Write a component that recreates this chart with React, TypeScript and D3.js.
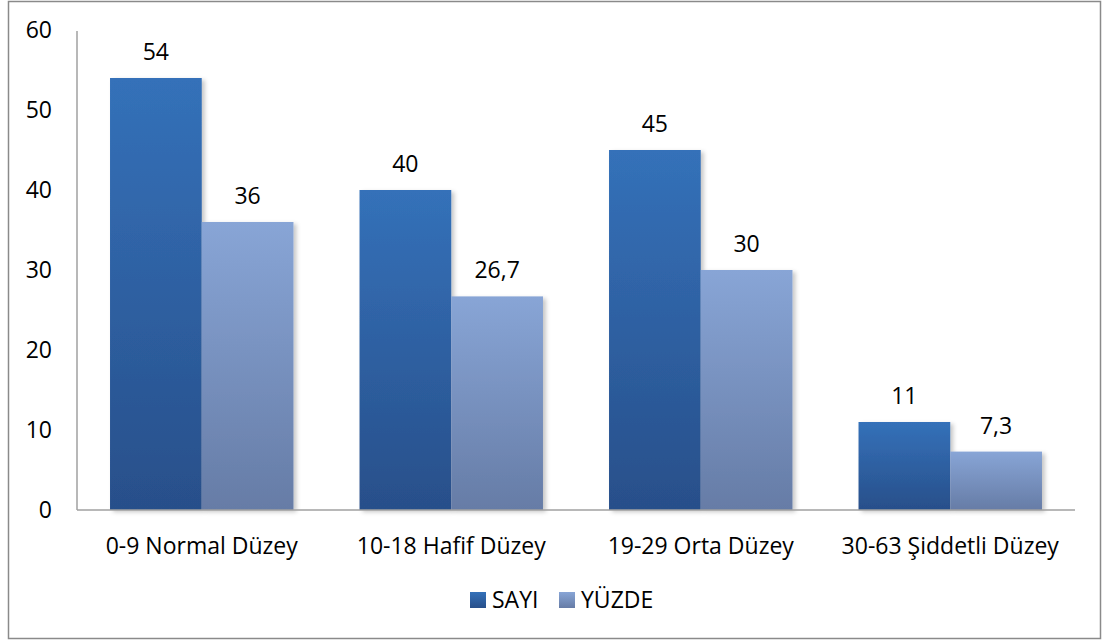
import React from 'react';
import * as d3 from 'd3';

const categories = ['0-9 Normal Düzey', '10-18 Hafif Düzey', '19-29 Orta Düzey', '30-63 Şiddetli Düzey'];
const seriesNames = ['SAYI', 'YÜZDE'];
const sayiValues = [54, 40, 45, 11];
const yuzdeValues = [36, 26.7, 30, 7.3];
const yTicks = [0, 10, 20, 30, 40, 50, 60];

const W = 1105;
const H = 641;
const plot = { left: 77, right: 1075, top: 30, bottom: 510 };
const font = "'Open Sans', 'Noto Sans', sans-serif";
const fs = 23;

const gradients: Record<string, [string, string]> = {
  SAYI: ['#3471b9', '#284f8a'],
  YÜZDE: ['#88a5d6', '#667ca6'],
};

const fmt = (v: number) => String(v).replace('.', ',');

export default function App() {
  const x0 = d3.scaleBand<string>().domain(categories).range([plot.left, plot.right]).padding(0);
  const x1 = d3
    .scaleBand<string>()
    .domain(seriesNames)
    .range([0, x0.bandwidth()])
    .paddingInner(0)
    .paddingOuter(0.36);
  const y = d3.scaleLinear().domain([0, 60]).range([plot.bottom, plot.top]);

  const rows = categories.map((c, i) => ({ cat: c, values: [sayiValues[i], yuzdeValues[i]] }));

  return (
    <div style={{ position: 'absolute', left: 0, top: 0 }}>
      <svg width={W} height={H} style={{ display: 'block', fontFamily: font }}>
        <defs>
          {seriesNames.map((s, i) => (
            <linearGradient key={s} id={`grad${i}`} x1="0" y1="0" x2="0" y2="1">
              <stop offset="0%" stopColor={gradients[s][0]} />
              <stop offset="100%" stopColor={gradients[s][1]} />
            </linearGradient>
          ))}
          <filter id="shadow" x="-10%" y="-10%" width="130%" height="120%">
            <feDropShadow dx="3" dy="2" stdDeviation="2" floodColor="#000" floodOpacity="0.22" />
          </filter>
        </defs>
        <rect x={0} y={0} width={W} height={H} fill="#fff" />
        <rect x={8.5} y={1.5} width={1092} height={637} fill="none" stroke="#8a8a8a" strokeWidth={1.5} />

        {/* y axis */}
        <line x1={plot.left} x2={plot.left} y1={plot.top + 1} y2={plot.bottom} stroke="#a0a0a0" strokeWidth={1.5} />
        {yTicks.map((t) => (
          <text key={t} x={52} y={y(t)} dy="0.36em" textAnchor="end" fontSize={fs} fill="#000">
            {t}
          </text>
        ))}

        {/* bars */}
        {rows.map((r) => (
          <g key={r.cat} transform={`translate(${x0(r.cat)},0)`}>
            {r.values.map((v, i) => (
              <rect
                key={i}
                x={x1(seriesNames[i])}
                y={y(v)}
                width={x1.bandwidth()}
                height={y(0) - y(v)}
                fill={`url(#grad${i})`}
                filter="url(#shadow)"
              />
            ))}
            {r.values.map((v, i) => (
              <text
                key={'l' + i}
                x={(x1(seriesNames[i]) ?? 0) + x1.bandwidth() / 2}
                y={y(v) - 18}
                textAnchor="middle"
                fontSize={fs}
                fill="#000"
              >
                {fmt(v)}
              </text>
            ))}
            <text x={x0.bandwidth() / 2} y={554} textAnchor="middle" fontSize={fs} fill="#000">
              {r.cat}
            </text>
          </g>
        ))}

        {/* x axis */}
        <line x1={plot.left} x2={plot.right} y1={plot.bottom} y2={plot.bottom} stroke="#a0a0a0" strokeWidth={1.5} />

        {/* legend */}
        {seriesNames.map((s, i) => {
          const lx = i === 0 ? 470 : 559;
          return (
            <g key={s}>
              <rect x={lx} y={592} width={16} height={16} fill={`url(#grad${i})`} />
              <text x={lx + 22} y={600} dy="0.36em" fontSize={fs} fill="#000">
                {s}
              </text>
            </g>
          );
        })}
      </svg>
    </div>
  );
}
